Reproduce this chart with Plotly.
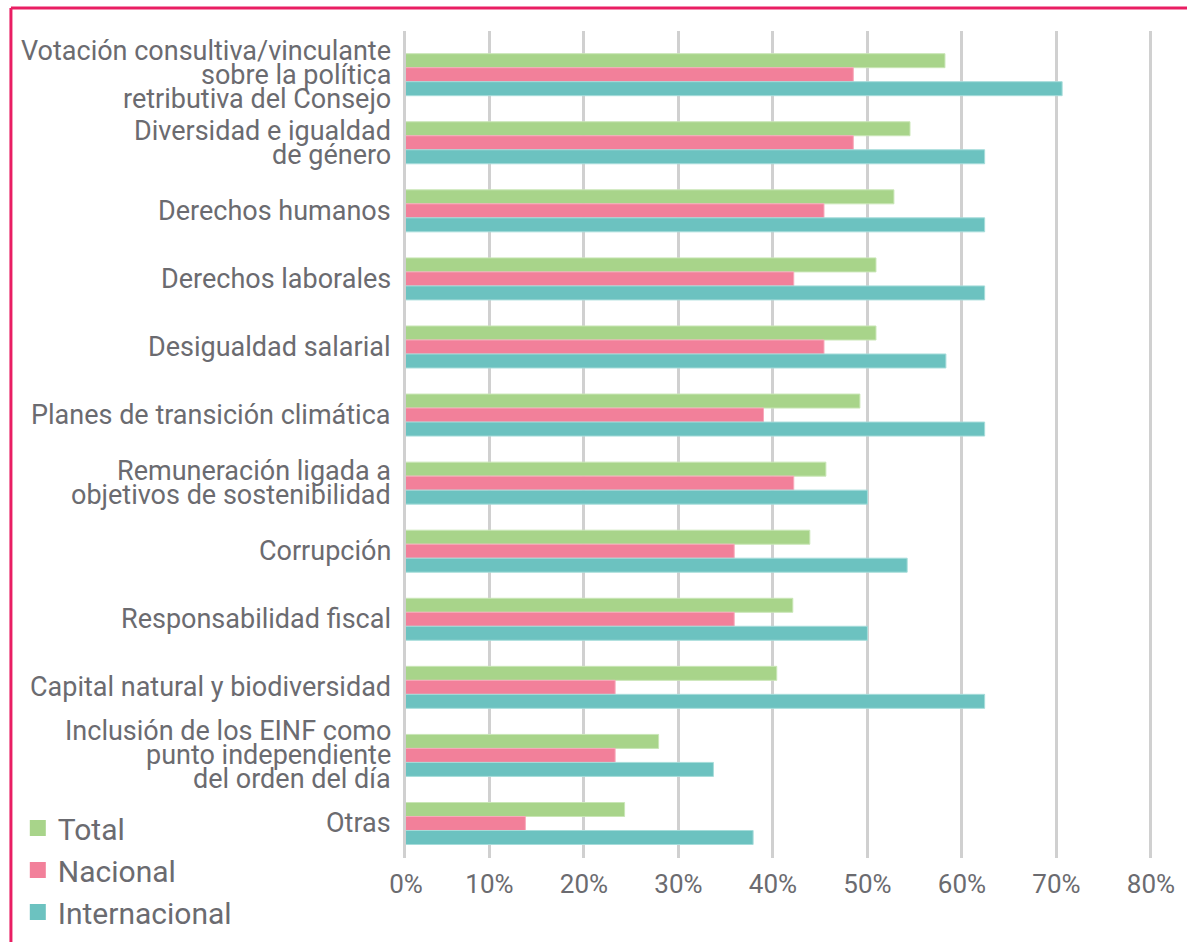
import plotly.graph_objects as go

# Categories, top to bottom
categories = [
    "Votación consultiva/vinculante<br>sobre la política<br>retributiva del Consejo",
    "Diversidad e igualdad<br>de género",
    "Derechos humanos",
    "Derechos laborales",
    "Desigualdad salarial",
    "Planes de transición climática",
    "Remuneración ligada a<br>objetivos de sostenibilidad",
    "Corrupción",
    "Responsabilidad fiscal",
    "Capital natural y biodiversidad",
    "Inclusión de los EINF como<br>punto independiente<br>del orden del día",
    "Otras",
]

# Share of respondents (%)
total = [58.2, 54.5, 52.8, 50.9, 50.9, 49.2, 45.6, 43.9, 42.1, 40.4, 27.9, 24.3]
nacional = [48.5, 48.5, 45.4, 42.2, 45.4, 39.0, 42.2, 35.9, 35.9, 23.3, 23.3, 13.8]
internacional = [70.6, 62.4, 62.4, 62.4, 58.3, 62.4, 50.0, 54.2, 50.0, 62.4, 33.7, 37.9]

series_names = ["Total", "Nacional", "Internacional"]
x_ticks = [0, 10, 20, 30, 40, 50, 60, 70, 80]

COLORS = ["#A8D48A", "#F2809A", "#6CC2C0"]
EDGES = ["#C9E6B6", "#F7AABB", "#A6DCDA"]
TEXT = "#6B6B70"
GRID = "#D0D0D0"
FONT = "Roboto, 'Noto Sans', sans-serif"

W, H = 1187, 942
PLOT_L, PLOT_R, PLOT_T, PLOT_B = 405.5, 1160, 31, 858

# The value axis starts a little right of zero; the first tick is labelled 0%
X_START = 1.17
X_END = 80.32

ids = list(range(len(categories)))

fig = go.Figure()
for name, vals, col, edge in zip(series_names, [total, nacional, internacional], COLORS, EDGES):
    fig.add_trace(go.Bar(
        y=ids, x=vals, base=0, orientation="h", name=name,
        marker=dict(color=col, line=dict(color=edge, width=1)),
        showlegend=False, hoverinfo="x+name",
    ))
    # legend entry with a larger square swatch
    fig.add_trace(go.Scatter(
        x=[None], y=[None], mode="markers", name=name,
        marker=dict(symbol="square", size=19, color=col),
        legendgroup=name, showlegend=True,
    ))

# Category labels, one annotation per line with tight line spacing
LINE_H = 24
for i, cat in enumerate(categories):
    lines = cat.split("<br>")
    n = len(lines)
    for j, ln in enumerate(lines):
        fig.add_annotation(
            x=0, xref="paper", xanchor="right", xshift=-13,
            y=i, yref="y", yanchor="middle",
            yshift=-(j - (n - 1) / 2) * LINE_H,
            text=ln, showarrow=False,
            font=dict(family=FONT, size=27, color=TEXT),
        )

# Pink frame around the figure (open at right and bottom edges)
PW, PH = PLOT_R - PLOT_L, PLOT_B - PLOT_T
frame_x = (7 - PLOT_L) / PW
frame_top = 1 + (PLOT_T - 8) / PH
fig.add_shape(type="line", xref="paper", yref="paper",
              x0=frame_x, x1=(W + 10 - PLOT_L) / PW, y0=frame_top, y1=frame_top,
              line=dict(color="#E91E63", width=3))
fig.add_shape(type="line", xref="paper", yref="paper",
              x0=frame_x, x1=frame_x, y0=frame_top, y1=-(H + 10 - PLOT_B) / PH,
              line=dict(color="#E91E63", width=3))

fig.update_layout(
    width=W, height=H,
    margin=dict(l=PLOT_L, r=W - PLOT_R, t=PLOT_T, b=H - PLOT_B, pad=0),
    paper_bgcolor="white", plot_bgcolor="white",
    barmode="group", bargap=0.383, bargroupgap=0,
    font=dict(family=FONT, color=TEXT),
    xaxis=dict(
        range=[X_START, X_END],
        tickvals=[X_START] + x_ticks[1:],
        ticktext=[f"{t}%" for t in x_ticks],
        showgrid=True, gridcolor=GRID, gridwidth=3,
        zeroline=False, showline=False, ticks="",
        tickfont=dict(family=FONT, size=26, color=TEXT),
        ticklabelstandoff=8,
    ),
    yaxis=dict(
        range=[11.507, -0.642],
        showticklabels=False, showgrid=False, zeroline=False,
        showline=True, linecolor=GRID, linewidth=3, ticks="",
    ),
    legend=dict(
        xref="container", yref="container",
        x=0.015, y=1 - 802 / H, xanchor="left", yanchor="top",
        font=dict(family=FONT, size=30, color=TEXT),
        bgcolor="rgba(0,0,0,0)", tracegroupgap=0,
        itemclick=False,
    ),
    showlegend=True,
)

fig.write_html("out.html")
